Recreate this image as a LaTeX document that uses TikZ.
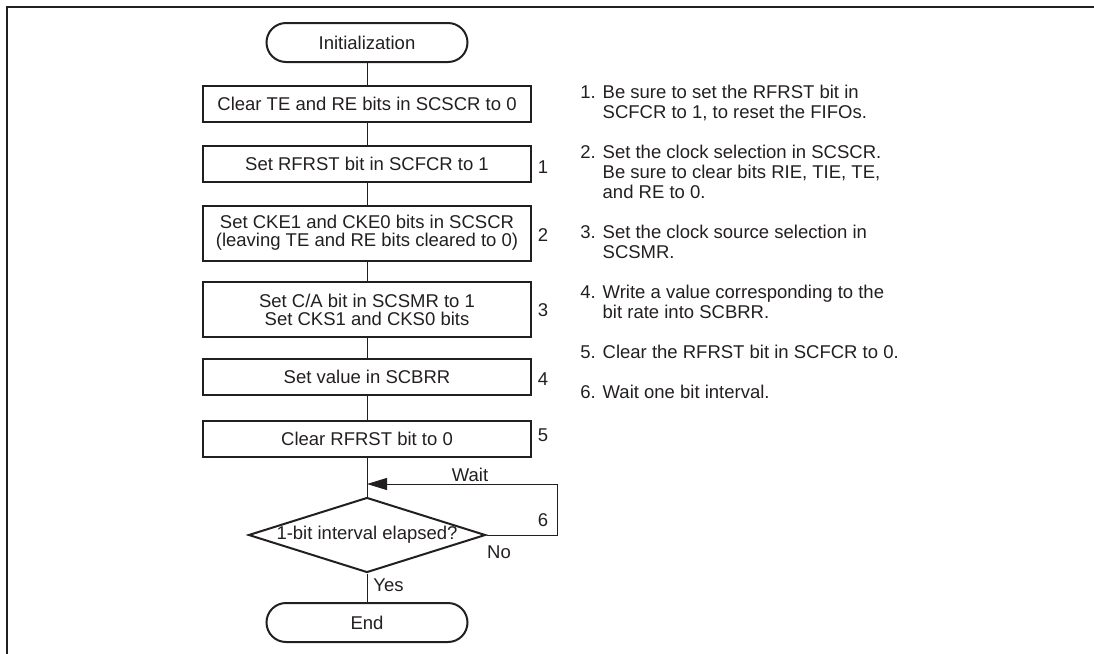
\documentclass[tikz,border=0pt]{standalone}
\usepackage{fontspec}
\setmainfont{Liberation Sans}
\usetikzlibrary{arrows.meta, shapes.geometric}
\definecolor{ink}{HTML}{231F20}

\begin{document}
\begin{tikzpicture}[
  x=0.5pt, y=-0.5pt,
  >={Triangle[length=10pt, width=6pt]},
  every node/.style={ink, font=\fontsize{9.25}{10}\selectfont},
  frame/.style={ink, line width=1.2pt},
  terminal/.style={draw, line width=1pt, rounded corners=9.75pt,
    minimum width=100.5pt, minimum height=19.5pt, inner sep=0pt},
  stepbox/.style={draw, line width=1pt, minimum width=164pt,
    minimum height=18pt, inner sep=0pt, align=center},
  tallbox/.style={stepbox, minimum height=27.5pt,
    font=\fontsize{9.25}{9}\selectfont},
  decision/.style={draw, diamond, line width=1pt, aspect=3.16,
    minimum width=118.5pt, minimum height=37.5pt, inner sep=0pt},
  conn/.style={ink, line width=0.5pt},
  num/.style={inner sep=0pt},
]

% ══════════════════════════════════════════════════════
% Page size and frame
% ══════════════════════════════════════════════════════
\useasboundingbox (0,0) rectangle (1094,654);
\draw[frame] (7,654) -- (7,7) -- (1094,7);

% ══════════════════════════════════════════════════════
% Flow steps
% ══════════════════════════════════════════════════════
\node[terminal] (init) at (367,42.5) {Initialization};
\node[stepbox] (clrte) at (367,104) {Clear TE and RE bits in SCSCR to 0};
\node[stepbox] (setrf) at (367,163.5) {Set RFRST bit in SCFCR to 1};
\node[tallbox] (setcke) at (367,233)
  {Set CKE1 and CKE0 bits in SCSCR\\(leaving TE and RE bits cleared to 0)};
\node[tallbox] (setca) at (367,309.5)
  {Set C/A bit in SCSMR to 1\\Set CKS1 and CKS0 bits};
\node[stepbox] (setbrr) at (367,377) {Set value in SCBRR};
\node[stepbox] (clrrf) at (367,439) {Clear RFRST bit to 0};
\node[decision] (elapsed) at (367,535) {1-bit interval elapsed?};
\node[terminal] (fin) at (367,622.5) {End};

% step numbers
\node[num] (n1) at (543,167) {1};
\node[num] (n2) at (543,235) {2};
\node[num] (n3) at (543,310) {3};
\node[num] (n4) at (543,379) {4};
\node[num] (n5) at (543,435) {5};
\node[num] (n6) at (543,520) {6};

% ══════════════════════════════════════════════════════
% Connectors
% ══════════════════════════════════════════════════════
\draw[conn] (init) -- (clrte);
\draw[conn] (clrte) -- (setrf);
\draw[conn] (setrf) -- (setcke);
\draw[conn] (setcke) -- (setca);
\draw[conn] (setca) -- (setbrr);
\draw[conn] (setbrr) -- (clrrf);
\draw[conn] (clrrf) -- (elapsed);
\draw[conn] (elapsed) -- (fin);

% wait loop back into the line above the decision
\coordinate (rejoin) at (367,484);
\draw[conn, ->] (elapsed.east) -- ++(71,0) |- (rejoin);

\node (wait) at (470,475) {Wait};
\node (no) at (499,552) {No};
\node[anchor=west, inner sep=0pt] (yes) at (373,585) {Yes};

% ══════════════════════════════════════════════════════
% Notes
% ══════════════════════════════════════════════════════
\node[anchor=north west, inner sep=0pt] (notes) at (580,84) {%
  \begin{tabular}{@{}l@{ }l@{}}
  1. & Be sure to set the RFRST bit in\\
     & SCFCR to 1, to reset the FIFOs.\\[10pt]
  2. & Set the clock selection in SCSCR.\\
     & Be sure to clear bits RIE, TIE, TE,\\
     & and RE to 0.\\[10pt]
  3. & Set the clock source selection in\\
     & SCSMR.\\[10pt]
  4. & Write a value corresponding to the\\
     & bit rate into SCBRR.\\[10pt]
  5. & Clear the RFRST bit in SCFCR to 0.\\[10pt]
  6. & Wait one bit interval.
  \end{tabular}};

\end{tikzpicture}
\end{document}
